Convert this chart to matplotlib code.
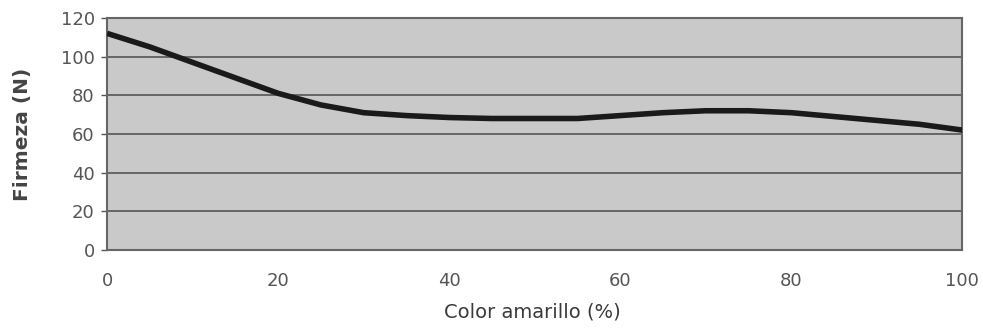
import matplotlib
matplotlib.use("Agg")
import matplotlib.pyplot as plt
import numpy as np

# values
color_amarillo = [0, 5, 10, 15, 20, 25, 30, 35, 40, 45, 50, 55, 60, 65, 70, 75, 80, 85, 90, 95, 100]
firmeza = [112, 105, 97, 89, 81, 75, 71, 69.5, 68.5, 68, 68, 68, 69.5, 71, 72, 72, 71, 69, 67, 65, 62]
y_ticks = [0, 20, 40, 60, 80, 100, 120]
x_ticks = [0, 20, 40, 60, 80, 100]

plt.rcParams['font.family'] = ['DejaVu Sans']

fig = plt.figure(figsize=(9.83, 3.32), dpi=100)
ax = fig.add_axes([0.109, 0.247, 0.870, 0.699])
ax.set_facecolor('#c9c9c9')

for v in y_ticks[1:-1]:
    ax.axhline(v, color='#555555', lw=1.2, zorder=1)

ax.plot(color_amarillo, firmeza, color='#1a1a1a', lw=4.0, solid_capstyle='butt', zorder=3)

ax.set_xlim(0, 100)
ax.set_ylim(0, 120)
ax.set_xticks(x_ticks)
ax.set_yticks(y_ticks)
ax.tick_params(axis='both', labelsize=13, colors='#555555', length=4, width=1)
ax.tick_params(axis='x', pad=16, length=0)
ax.tick_params(axis='y', pad=5)
for s in ax.spines.values():
    s.set_color('#666666')
    s.set_linewidth(1.5)

ax.set_xlabel('Color amarillo (%)', fontsize=14, color='#3a3a3a')
ax.xaxis.set_label_coords(0.497, -0.225)
ax.xaxis.label.set_va('top')
ax.set_ylabel('Firmeza (N)', fontsize=14.5, fontweight='bold', color='#444444')
ax.yaxis.set_label_coords(-0.099, 0.5)
ax.yaxis.label.set_va('center')

fig.savefig('out.png', dpi=100, facecolor='white')
